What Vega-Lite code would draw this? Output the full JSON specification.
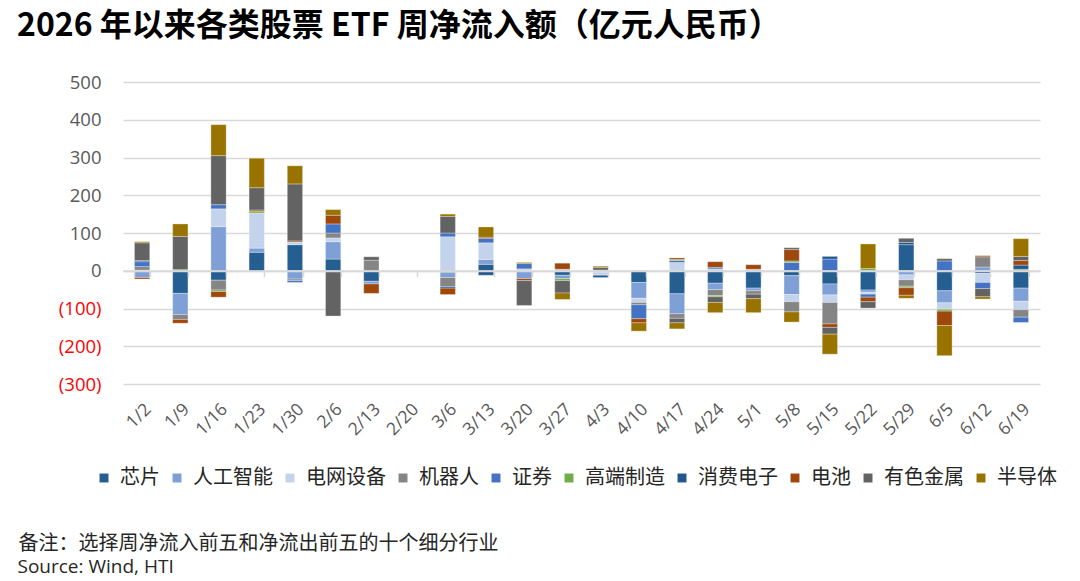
{
  "$schema": "https://vega.github.io/schema/vega-lite/v6.json",
  "width": 917,
  "height": 302,
  "autosize": {"type": "none"},
  "padding": {"left": 123, "top": 82, "right": 40, "bottom": 197},
  "background": "white",
  "title": {
    "text": "2026 年以来各类股票 ETF 周净流入额（亿元人民币）",
    "anchor": "start",
    "frame": "group",
    "dx": -106,
    "offset": 30,
    "font": "Noto Sans CJK SC",
    "fontSize": 32,
    "fontWeight": "bold",
    "color": "#000000"
  },
  "config": {"view": {"stroke": null}},
  "data": {
    "values": [
      {"w": "1/2", "c": "电网设备", "v": 2},
      {"w": "1/2", "c": "机器人", "v": 9},
      {"w": "1/2", "c": "证券", "v": 13},
      {"w": "1/2", "c": "消费电子", "v": 3},
      {"w": "1/2", "c": "有色金属", "v": 47},
      {"w": "1/2", "c": "半导体", "v": 3},
      {"w": "1/2", "c": "人工智能", "v": -18},
      {"w": "1/2", "c": "电池", "v": -4},

      {"w": "1/9", "c": "高端制造", "v": 3},
      {"w": "1/9", "c": "有色金属", "v": 88},
      {"w": "1/9", "c": "半导体", "v": 33},
      {"w": "1/9", "c": "芯片", "v": -60},
      {"w": "1/9", "c": "人工智能", "v": -56},
      {"w": "1/9", "c": "机器人", "v": -13},
      {"w": "1/9", "c": "电池", "v": -10},

      {"w": "1/16", "c": "人工智能", "v": 117},
      {"w": "1/16", "c": "电网设备", "v": 47},
      {"w": "1/16", "c": "证券", "v": 11},
      {"w": "1/16", "c": "有色金属", "v": 130},
      {"w": "1/16", "c": "半导体", "v": 82},
      {"w": "1/16", "c": "芯片", "v": -25},
      {"w": "1/16", "c": "机器人", "v": -26},
      {"w": "1/16", "c": "高端制造", "v": -4},
      {"w": "1/16", "c": "电池", "v": -15},

      {"w": "1/23", "c": "芯片", "v": 49},
      {"w": "1/23", "c": "人工智能", "v": 11},
      {"w": "1/23", "c": "电网设备", "v": 93},
      {"w": "1/23", "c": "高端制造", "v": 5},
      {"w": "1/23", "c": "电池", "v": 3},
      {"w": "1/23", "c": "有色金属", "v": 59},
      {"w": "1/23", "c": "半导体", "v": 78},

      {"w": "1/30", "c": "芯片", "v": 69},
      {"w": "1/30", "c": "电网设备", "v": 7},
      {"w": "1/30", "c": "电池", "v": 3},
      {"w": "1/30", "c": "有色金属", "v": 151},
      {"w": "1/30", "c": "半导体", "v": 48},
      {"w": "1/30", "c": "人工智能", "v": -22},
      {"w": "1/30", "c": "机器人", "v": -4},
      {"w": "1/30", "c": "证券", "v": -5},

      {"w": "2/6", "c": "芯片", "v": 31},
      {"w": "2/6", "c": "人工智能", "v": 46},
      {"w": "2/6", "c": "电网设备", "v": 10},
      {"w": "2/6", "c": "机器人", "v": 13},
      {"w": "2/6", "c": "证券", "v": 24},
      {"w": "2/6", "c": "电池", "v": 23},
      {"w": "2/6", "c": "半导体", "v": 15},
      {"w": "2/6", "c": "有色金属", "v": -120},

      {"w": "2/13", "c": "机器人", "v": 28},
      {"w": "2/13", "c": "有色金属", "v": 9},
      {"w": "2/13", "c": "芯片", "v": -28},
      {"w": "2/13", "c": "人工智能", "v": -7},
      {"w": "2/13", "c": "电池", "v": -25},

      {"w": "3/6", "c": "电网设备", "v": 90},
      {"w": "3/6", "c": "证券", "v": 10},
      {"w": "3/6", "c": "有色金属", "v": 44},
      {"w": "3/6", "c": "半导体", "v": 6},
      {"w": "3/6", "c": "芯片", "v": -5},
      {"w": "3/6", "c": "人工智能", "v": -13},
      {"w": "3/6", "c": "机器人", "v": -24},
      {"w": "3/6", "c": "消费电子", "v": -4},
      {"w": "3/6", "c": "电池", "v": -17},

      {"w": "3/13", "c": "芯片", "v": 17},
      {"w": "3/13", "c": "人工智能", "v": 13},
      {"w": "3/13", "c": "电网设备", "v": 44},
      {"w": "3/13", "c": "证券", "v": 12},
      {"w": "3/13", "c": "电池", "v": 3},
      {"w": "3/13", "c": "半导体", "v": 27},
      {"w": "3/13", "c": "消费电子", "v": -12},

      {"w": "3/20", "c": "电网设备", "v": 5},
      {"w": "3/20", "c": "证券", "v": 14},
      {"w": "3/20", "c": "半导体", "v": 3},
      {"w": "3/20", "c": "人工智能", "v": -21},
      {"w": "3/20", "c": "电池", "v": -5},
      {"w": "3/20", "c": "有色金属", "v": -66},

      {"w": "3/27", "c": "电网设备", "v": 4},
      {"w": "3/27", "c": "电池", "v": 16},
      {"w": "3/27", "c": "芯片", "v": -12},
      {"w": "3/27", "c": "人工智能", "v": -9},
      {"w": "3/27", "c": "高端制造", "v": -5},
      {"w": "3/27", "c": "有色金属", "v": -33},
      {"w": "3/27", "c": "半导体", "v": -17},

      {"w": "4/3", "c": "机器人", "v": 2},
      {"w": "4/3", "c": "有色金属", "v": 7},
      {"w": "4/3", "c": "半导体", "v": 3},
      {"w": "4/3", "c": "人工智能", "v": -5},
      {"w": "4/3", "c": "电网设备", "v": -7},
      {"w": "4/3", "c": "消费电子", "v": -6},

      {"w": "4/10", "c": "芯片", "v": -31},
      {"w": "4/10", "c": "人工智能", "v": -42},
      {"w": "4/10", "c": "电网设备", "v": -11},
      {"w": "4/10", "c": "机器人", "v": -6},
      {"w": "4/10", "c": "证券", "v": -37},
      {"w": "4/10", "c": "电池", "v": -11},
      {"w": "4/10", "c": "半导体", "v": -22},

      {"w": "4/17", "c": "电网设备", "v": 22},
      {"w": "4/17", "c": "证券", "v": 5},
      {"w": "4/17", "c": "高端制造", "v": 3},
      {"w": "4/17", "c": "电池", "v": 4},
      {"w": "4/17", "c": "芯片", "v": -61},
      {"w": "4/17", "c": "人工智能", "v": -53},
      {"w": "4/17", "c": "机器人", "v": -12},
      {"w": "4/17", "c": "有色金属", "v": -12},
      {"w": "4/17", "c": "半导体", "v": -16},

      {"w": "4/24", "c": "电网设备", "v": 5},
      {"w": "4/24", "c": "证券", "v": 4},
      {"w": "4/24", "c": "电池", "v": 15},
      {"w": "4/24", "c": "芯片", "v": -33},
      {"w": "4/24", "c": "人工智能", "v": -17},
      {"w": "4/24", "c": "机器人", "v": -16},
      {"w": "4/24", "c": "高端制造", "v": -3},
      {"w": "4/24", "c": "有色金属", "v": -15},
      {"w": "4/24", "c": "半导体", "v": -27},

      {"w": "5/1", "c": "电网设备", "v": 4},
      {"w": "5/1", "c": "电池", "v": 12},
      {"w": "5/1", "c": "芯片", "v": -46},
      {"w": "5/1", "c": "人工智能", "v": -7},
      {"w": "5/1", "c": "机器人", "v": -9},
      {"w": "5/1", "c": "有色金属", "v": -12},
      {"w": "5/1", "c": "半导体", "v": -37},

      {"w": "5/8", "c": "证券", "v": 22},
      {"w": "5/8", "c": "高端制造", "v": 4},
      {"w": "5/8", "c": "电池", "v": 30},
      {"w": "5/8", "c": "有色金属", "v": 5},
      {"w": "5/8", "c": "芯片", "v": -13},
      {"w": "5/8", "c": "人工智能", "v": -50},
      {"w": "5/8", "c": "电网设备", "v": -19},
      {"w": "5/8", "c": "机器人", "v": -27},
      {"w": "5/8", "c": "半导体", "v": -27},

      {"w": "5/15", "c": "证券", "v": 31},
      {"w": "5/15", "c": "消费电子", "v": 7},
      {"w": "5/15", "c": "芯片", "v": -35},
      {"w": "5/15", "c": "人工智能", "v": -29},
      {"w": "5/15", "c": "电网设备", "v": -20},
      {"w": "5/15", "c": "机器人", "v": -57},
      {"w": "5/15", "c": "电池", "v": -9},
      {"w": "5/15", "c": "有色金属", "v": -18},
      {"w": "5/15", "c": "半导体", "v": -53},

      {"w": "5/22", "c": "高端制造", "v": 6},
      {"w": "5/22", "c": "半导体", "v": 65},
      {"w": "5/22", "c": "芯片", "v": -51},
      {"w": "5/22", "c": "人工智能", "v": -6},
      {"w": "5/22", "c": "电网设备", "v": -5},
      {"w": "5/22", "c": "证券", "v": -8},
      {"w": "5/22", "c": "电池", "v": -12},
      {"w": "5/22", "c": "有色金属", "v": -17},

      {"w": "5/29", "c": "芯片", "v": 69},
      {"w": "5/29", "c": "消费电子", "v": 6},
      {"w": "5/29", "c": "有色金属", "v": 11},
      {"w": "5/29", "c": "人工智能", "v": -11},
      {"w": "5/29", "c": "电网设备", "v": -13},
      {"w": "5/29", "c": "机器人", "v": -17},
      {"w": "5/29", "c": "高端制造", "v": -4},
      {"w": "5/29", "c": "电池", "v": -20},
      {"w": "5/29", "c": "半导体", "v": -8},

      {"w": "6/5", "c": "证券", "v": 26},
      {"w": "6/5", "c": "有色金属", "v": 6},
      {"w": "6/5", "c": "芯片", "v": -53},
      {"w": "6/5", "c": "人工智能", "v": -32},
      {"w": "6/5", "c": "电网设备", "v": -17},
      {"w": "6/5", "c": "高端制造", "v": -5},
      {"w": "6/5", "c": "电池", "v": -38},
      {"w": "6/5", "c": "半导体", "v": -80},

      {"w": "6/12", "c": "人工智能", "v": 10},
      {"w": "6/12", "c": "机器人", "v": 27},
      {"w": "6/12", "c": "电池", "v": 3},
      {"w": "6/12", "c": "芯片", "v": -7},
      {"w": "6/12", "c": "电网设备", "v": -24},
      {"w": "6/12", "c": "证券", "v": -16},
      {"w": "6/12", "c": "有色金属", "v": -22},
      {"w": "6/12", "c": "半导体", "v": -6},

      {"w": "6/19", "c": "高端制造", "v": 4},
      {"w": "6/19", "c": "消费电子", "v": 11},
      {"w": "6/19", "c": "电池", "v": 12},
      {"w": "6/19", "c": "有色金属", "v": 11},
      {"w": "6/19", "c": "半导体", "v": 47},
      {"w": "6/19", "c": "芯片", "v": -46},
      {"w": "6/19", "c": "人工智能", "v": -35},
      {"w": "6/19", "c": "电网设备", "v": -22},
      {"w": "6/19", "c": "机器人", "v": -20},
      {"w": "6/19", "c": "证券", "v": -14}
    ]
  },
  "transform": [
    {"calculate": "indexof(['芯片','人工智能','电网设备','机器人','证券','高端制造','消费电子','电池','有色金属','半导体'], datum.c)", "as": "rank"}
  ],
  "layer": [
    {
      "mark": {"type": "bar", "stroke": "white", "strokeWidth": 0.5, "strokeOpacity": 0.6},
      "encoding": {
        "x": {
          "field": "w",
          "type": "ordinal",
          "scale": {
            "domain": ["1/2","1/9","1/16","1/23","1/30","2/6","2/13","2/20","3/6","3/13","3/20","3/27","4/3","4/10","4/17","4/24","5/1","5/8","5/15","5/22","5/29","6/5","6/12","6/19"],
            "paddingInner": 0.6,
            "paddingOuter": 0.3
          },
          "axis": {
            "orient": "bottom",
            "domain": false,
            "ticks": false,
            "labelAngle": -45,
            "labelFont": "Open Sans",
            "labelFontSize": 17.5,
            "labelColor": "#595959",
            "labelPadding": 16,
            "title": "备注：选择周净流入前五和净流出前五的十个细分行业",
            "titleFont": "Noto Sans CJK SC",
            "titleFontSize": 20,
            "titleFontWeight": "normal",
            "titleColor": "#262626",
            "titleAngle": 0,
            "titleX": -105,
            "titleY": 159,
            "titleAlign": "left",
            "titleBaseline": "middle"
          }
        },
        "y": {
          "field": "v",
          "type": "quantitative",
          "stack": "zero",
          "scale": {"domain": [-300, 500], "nice": false},
          "axis": {
            "values": [-300, -200, -100, 0, 100, 200, 300, 400, 500],
            "title": null,
            "domain": false,
            "ticks": false,
            "grid": true,
            "gridColor": "#d9d9d9",
            "gridWidth": 1.5,
            "labelFont": "Open Sans",
            "labelFontSize": 18.5,
            "labelPadding": 22,
            "labelExpr": "datum.value < 0 ? '(' + format(-datum.value, 'd') + ')' : format(datum.value, 'd')",
            "labelColor": {"condition": {"test": "datum.value < 0", "value": "#ff0000"}, "value": "#595959"}
          }
        },
        "color": {
          "field": "c",
          "type": "nominal",
          "scale": {
            "domain": ["芯片","人工智能","电网设备","机器人","证券","高端制造","消费电子","电池","有色金属","半导体"],
            "range": ["#255E91","#7FA0D6","#C3D3EC","#858585","#4472C4","#70AD47","#21578C","#9E480E","#636363","#997300"]
          },
          "legend": {
            "orient": "none",
            "legendX": -29,
            "legendY": 386,
            "direction": "horizontal",
            "columns": 10,
            "title": null,
            "padding": 0,
            "symbolType": "square",
            "symbolSize": 80,
            "symbolStrokeWidth": 0,
            "labelFont": "Noto Sans CJK SC",
            "labelFontSize": 20,
            "labelColor": "#262626",
            "labelOffset": 6,
            "columnPadding": 7
          }
        },
        "order": {"field": "rank", "type": "quantitative", "sort": "ascending"}
      }
    },
    {
      "mark": {"type": "rule", "opacity": 0},
      "encoding": {
        "x": {
          "field": "w",
          "type": "ordinal",
          "axis": {
            "orient": "bottom",
            "offset": -113.25,
            "labels": false,
            "ticks": true,
            "tickBand": "extent",
            "tickSize": 6,
            "tickWidth": 1.5,
            "tickColor": "#d9d9d9",
            "domain": true,
            "domainColor": "#d9d9d9",
            "domainWidth": 2,
            "zindex": 1,
            "title": "Source: Wind, HTI",
            "titleFont": "Open Sans",
            "titleFontSize": 19,
            "titleFontWeight": "normal",
            "titleColor": "#262626",
            "titleX": -106,
            "titleY": 296,
            "titleAlign": "left",
            "titleBaseline": "middle"
          }
        }
      }
    }
  ],
  "resolve": {"axis": {"x": "independent"}}
}
